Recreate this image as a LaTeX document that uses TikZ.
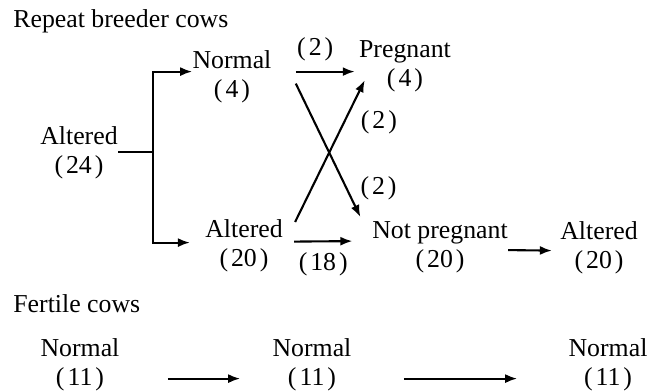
\documentclass[tikz,border=0pt]{standalone}
\usepackage{fontspec}
\setmainfont{Liberation Serif}
\usepackage{tikz}
\usetikzlibrary{arrows.meta, positioning, calc}
\newcommand{\cnt}[1]{(\hspace{1.5pt}#1\hspace{1.5pt})}
\tikzset{
    state/.style={align=center, inner sep=0pt, anchor=north, font=\fontsize{12.9}{14.5}\selectfont},
    heading/.style={inner sep=0pt, anchor=base west, font=\fontsize{12.9}{14.5}\selectfont},
    count/.style={inner sep=0pt, font=\fontsize{12.9}{14.5}\selectfont},
    link/.style={line width=1.05pt},
    flow/.style={line width=1.05pt, -{Latex[length=6pt, width=4.5pt]}}
}

\begin{document}
\begin{tikzpicture}[x=0.5pt, y=-0.5pt]
        \useasboundingbox (0,0) rectangle (656,390);
        % repeat breeder cows
        \node[heading] (repeat) at (13,28) {Repeat breeder cows};
        \node[state] (alt24) at (79,126) {Altered\\\cnt{24}};
        \node[state] (norm4) at (232,50) {Normal\\\cnt{4}};
        \node[state] (alt20) at (244,219) {Altered\\\cnt{20}};
        \node[state] (preg) at (405,40) {Pregnant\\\cnt{4}};
        \node[state] (notpreg) at (440,221) {Not pregnant\\\cnt{20}};
        \node[state] (alt20b) at (599,221) {Altered\\\cnt{20}};
        \coordinate (split) at (153,152);
        \draw[link] (alt24.east |- split) -- (split);
        \draw[flow] (split) |- ([yshift=2.5pt]norm4.west);
        \draw[flow, shorten >=7.5pt] (split) |- ([yshift=1.5pt]alt20.west);
        \draw[flow, shorten <=12pt, shorten >=2pt] ([yshift=2.5pt]norm4.east) -- ([yshift=2.5pt]norm4.east -| preg.west)
            node[count, midway, above=5pt] {\cnt{2}};
        \draw[flow] ($(norm4.east)+(24,7)$) -- ($(notpreg.north west)+(-11.5,-4)$)
            node[count, pos=0.784, right=6.5pt] {\cnt{2}};
        \draw[flow] ($(alt20.north east)+(12,3)$) -- ($(preg.south west)+(6,-12)$)
            node[count, pos=0.7, right=8pt] {\cnt{2}};
        \draw[flow] ($(alt20.east)+(11,-4)$) -- ($(notpreg.west)+(-19.5,-6)$)
            node[count, midway, below=5pt] {\cnt{18}};
        \draw[flow] ($(notpreg.east)+(0,3)$) -- ($(alt20b.west)+(-8,3)$);
        % fertile cows
        \node[heading] (fertile) at (13,312) {Fertile cows};
        \node[state] (fn1) at (80,338) {Normal\\\cnt{11}};
        \node[state] (fn2) at (312,338) {Normal\\\cnt{11}};
        \node[state] (fn3) at (608,338) {Normal\\\cnt{11}};
        \draw[flow] ($(fn1.east)+(48,14)$) -- ($(fn2.west)+(-32,14)$);
        \draw[flow] ($(fn2.east)+(52,14)$) -- ($(fn3.west)+(-51,14)$);
    \end{tikzpicture}
\end{document}
